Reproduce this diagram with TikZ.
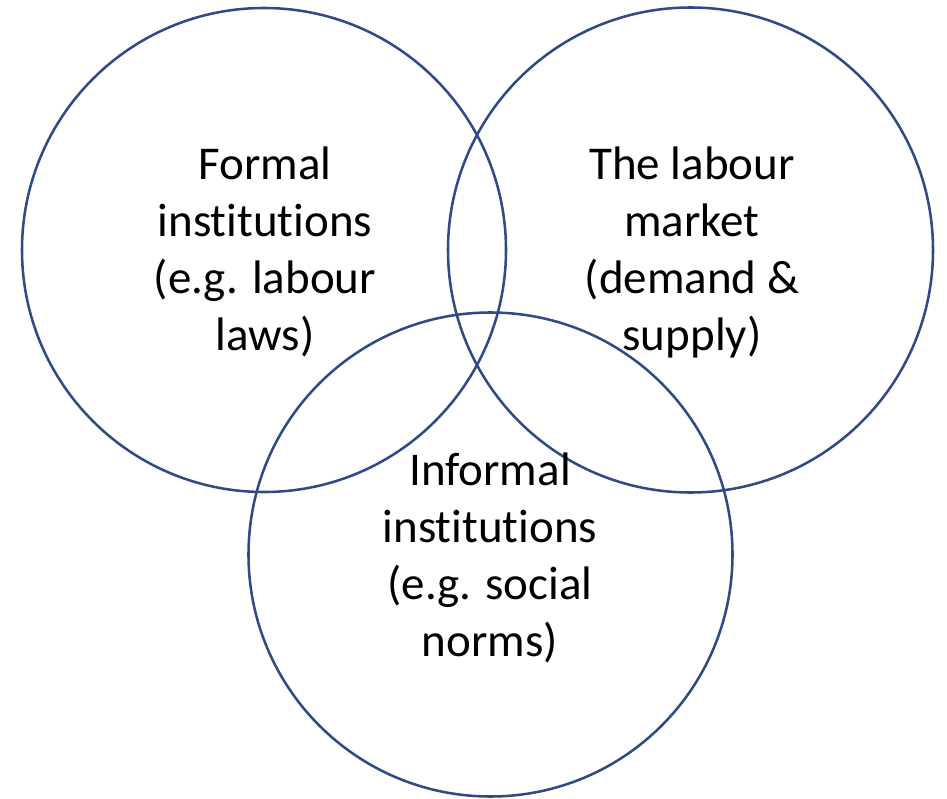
\documentclass[tikz,border=0pt]{standalone}
\usepackage{fontspec}
\setmainfont{Carlito}[Ligatures=NoCommon]
\definecolor{ringblue}{HTML}{2F4A87}
\begin{document}
\begin{tikzpicture}[x=0.75pt,y=-0.75pt,
  ring/.style={draw=ringblue,line width=1.9pt},
  label/.style={align=center,text=black,inner sep=0pt,
    font=\fontsize{35.25}{42.75}\selectfont}]
\useasboundingbox (0,0) rectangle (947,799);
% three overlapping circles
\coordinate (cf) at (264,250);
\coordinate (cm) at (690.5,250);
\coordinate (ci) at (490.5,554.5);
\draw[ring] (cf) circle[radius=242];
\draw[ring] (cm) circle[radius=242.5];
\draw[ring] (ci) circle[radius=242];
% labels
\node[label] (formal) at (265,252) {Formal\\institutions\\(e.g. labour\\laws)};
\node[label] (market) at (692,252) {The labour\\market\\(demand \&\\supply)};
\node[label] (informal) at (490,558) {Informal\\institutions\\(e.g. social\\norms)};
\end{tikzpicture}
\end{document}
